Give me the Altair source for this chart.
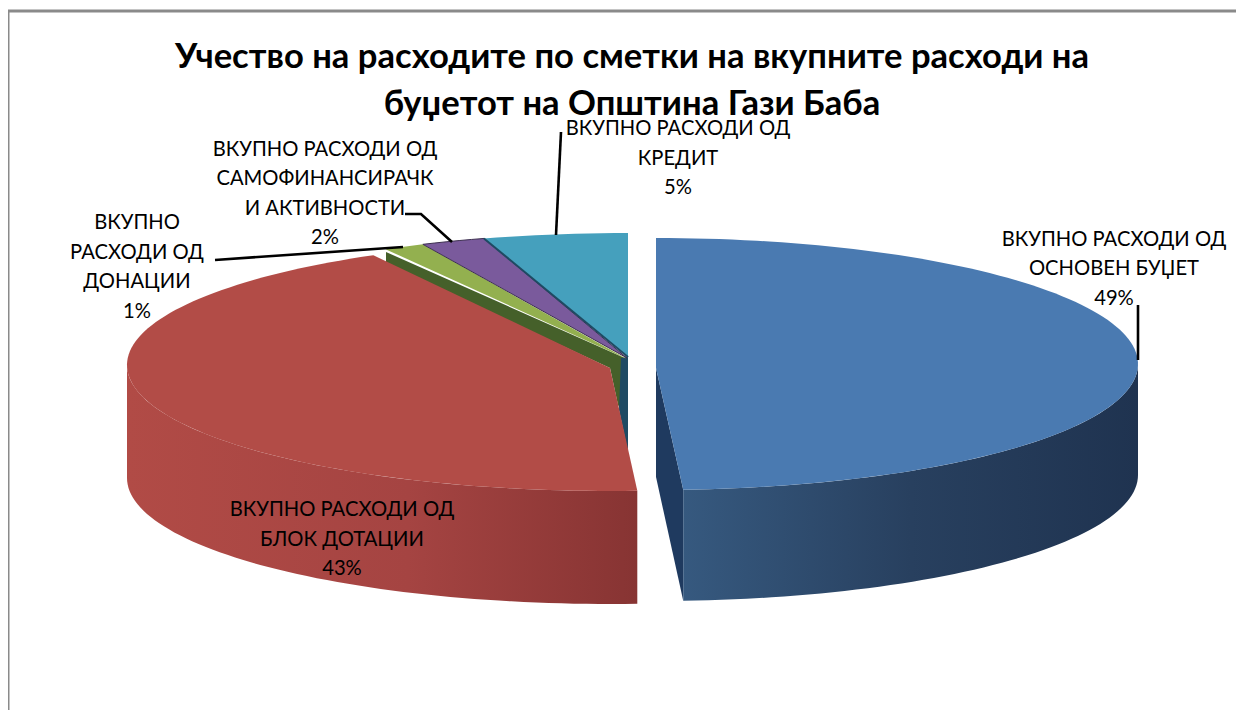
import math
import altair as alt
import pandas as pd

# Data
categories = ["ОСНОВЕН БУЏЕТ", "БЛОК ДОТАЦИИ", "ДОНАЦИИ", "САМОФИНАНСИРАЧКИ АКТИВНОСТИ", "КРЕДИТ"]
shares = [49.1, 42.75, 1.35, 2.1, 4.7]
title_lines = ["Учество на расходите по сметки  на вкупните расходи на",
               "буџетот на Општина Гази Баба"]
label_lines = [
    ["ВКУПНО РАСХОДИ ОД", "ОСНОВЕН БУЏЕТ"],
    ["ВКУПНО РАСХОДИ ОД", "БЛОК ДОТАЦИИ"],
    ["ВКУПНО", "РАСХОДИ ОД", "ДОНАЦИИ"],
    ["ВКУПНО РАСХОДИ ОД", "САМОФИНАНСИРАЧК", "И АКТИВНОСТИ"],
    ["ВКУПНО РАСХОДИ ОД", "КРЕДИТ"],
]

# Styling / layout of the drawing
W, H = 1228, 702
top_colors = ["#4a7ab1", "#b24c47", "#93b04f", "#7a5a9c", "#45a0bd"]
label_anchor = [(1114, 239.5), (342, 510), (137, 223), (325, 149.5), (678, 129)]
line_step = 29.5
ellipse = {0: (656, 364, 482, 126), 1: (610, 365, 483, 126)}
rest = (628, 359, 495, 126)
apex = {0: (656, 368), 1: (610, 368), 2: (627, 359), 3: (627, 358), 4: (628, 357)}
thick = 111
leaders = [
    [(1138, 305), (1138, 360)],
    [(215, 260), (403, 247)],
    [(405, 214), (421, 214), (452, 242)],
    [(561, 132), (556, 235)],
]
x_scale = alt.Scale(domain=[8, 8 + W], nice=False, zero=False)
y_scale = alt.Scale(domain=[8 + H, 8], nice=False, zero=False)


def arc(i, t0, t1, dy=0):
    cx, cy, a, b = ellipse.get(i, rest)
    n = max(4, int(abs(t1 - t0) / 1.5))
    return [(cx + a * math.sin(math.radians(t0 + (t1 - t0) * k / n)),
             cy + dy - b * math.cos(math.radians(t0 + (t1 - t0) * k / n))) for k in range(n + 1)]


def poly(points, fill, stroke=None, sw=0.6):
    df = pd.DataFrame({"x": [p[0] for p in points], "y": [p[1] for p in points],
                       "i": list(range(len(points)))})
    return alt.Chart(df).mark_line(
        interpolate="linear-closed", fill=fill, stroke=stroke or "#00000000", strokeWidth=sw
    ).encode(x=alt.X("x:Q", scale=x_scale, axis=None), y=alt.Y("y:Q", scale=y_scale, axis=None),
             order="i:Q")


def grad(stops):
    return alt.Gradient(gradient="linear", x1=0, x2=1, y1=0, y2=0,
                        stops=[alt.GradientStop(color=c, offset=o) for o, c in stops])


def polyline(points, color, sw):
    df = pd.DataFrame({"x": [p[0] for p in points], "y": [p[1] for p in points],
                       "i": list(range(len(points)))})
    return alt.Chart(df).mark_line(color=color, strokeWidth=sw).encode(
        x=alt.X("x:Q", scale=x_scale, axis=None), y=alt.Y("y:Q", scale=y_scale, axis=None),
        order="i:Q")


# Slice angles from the shares
ang = []
c = 0.0
for s in shares:
    ang.append((c * 3.6, (c + s) * 3.6))
    c += s

layers = []
# frame
layers.append(polyline([(8, 710), (8, 11), (1236, 11)], "#8a8a8a", 3))

# back slices: inner walls then tops
a0, a1 = ang[2]
layers.append(poly([(386, 252), apex[2], (622, 412), (618, 405), (610, 368), (386, 264)], "#45602a"))
layers.append(poly([(621, 358), (628, 357), (628, 453), (619, 410)], "#1f4a63"))
layers.append(poly(arc(2, a0, a1) + [apex[2]], top_colors[2]))
a0, a1 = ang[3]
layers.append(poly(arc(3, a0, a1) + [apex[3]], top_colors[3], "#3d3050", 1))
a0, a1 = ang[4]
layers.append(poly(arc(4, a0, a1) + [apex[4]], top_colors[4]))
layers.append(polyline([arc(4, a0, a0)[0], apex[4]], "#1f4a63", 2))

# red slice
a0, a1 = ang[1]
front = arc(1, a0, 270)
layers.append(poly(front + [(x, y + thick + 2) for x, y in reversed(front)],
                   grad([(0, "#b14b46"), (0.55, "#a54442"), (1, "#873433")])))
layers.append(poly(arc(1, a0, a1) + [apex[1]], top_colors[1]))

# blue slice
a0, a1 = ang[0]
bp = arc(0, a1, a1)[0]
layers.append(poly([apex[0], (656, 477), (bp[0], bp[1] + thick), bp], "#1f3a5f"))
side = arc(0, 90, a1)
layers.append(poly(side + [(x, y + thick) for x, y in reversed(side)],
                   grad([(0, "#36597f"), (0.5, "#28405f"), (1, "#1f3350")])))
layers.append(poly(arc(0, a0, a1) + [apex[0]], top_colors[0]))

# leader lines
for ln in leaders:
    layers.append(polyline(ln, "#000000", 2.6))

# data labels (percent derived from the shares)
rows = []
for lines, s, (x, y) in zip(label_lines, shares, label_anchor):
    for k, t in enumerate(lines + [f"{round(s)}%"]):
        rows.append({"x": x, "y": y + k * line_step, "t": t})
layers.append(alt.Chart(pd.DataFrame(rows)).mark_text(
    font="Lato", fontSize=20.2, color="#000000", align="center", baseline="middle"
).encode(x=alt.X("x:Q", scale=x_scale, axis=None), y=alt.Y("y:Q", scale=y_scale, axis=None),
         text="t:N"))

chart = alt.layer(*layers).properties(
    width=W, height=H, padding=0, background="white",
    autosize=alt.AutoSizeParams(type="none"),
    title=alt.TitleParams(text=title_lines, font="Lato", fontSize=34.6, fontWeight="bold",
                          color="#000000", anchor="middle", lineHeight=46.5, dx=10,
                          offset=-151.5, baseline="bottom"),
).configure_view(stroke=None)

chart.save("out.html", embed_options={"renderer": "svg", "actions": False})
